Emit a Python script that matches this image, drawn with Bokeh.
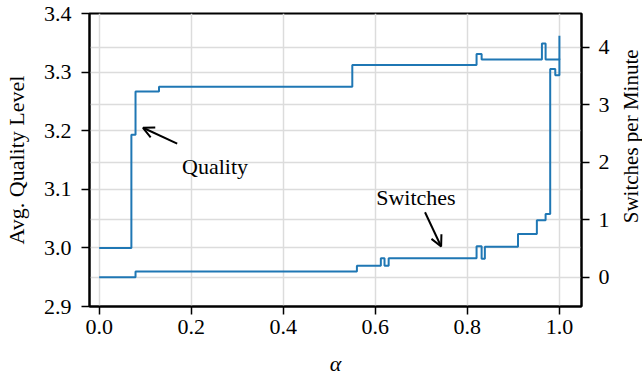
import math
from bokeh.plotting import figure
from bokeh.layouts import row
from bokeh.models import (Range1d, LinearAxis, FixedTicker, Grid, Arrow, OpenHead,
                          Label, NumeralTickFormatter)
from bokeh.embed import file_html
from bokeh.resources import INLINE

# ---- data ----
alpha_q = [0.0, 0.070, 0.079, 0.130, 0.550, 0.820, 0.831, 0.962, 0.970, 1.0]
quality = [3.000, 3.193, 3.267, 3.275, 3.312, 3.331, 3.3215, 3.349, 3.3215, 3.362]

alpha_s = [0.0, 0.079, 0.560, 0.612, 0.620, 0.629, 0.820, 0.831, 0.838,
           0.910, 0.951, 0.970, 0.980, 0.991, 1.0]
switches = [0.0, 0.10, 0.20, 0.33, 0.20, 0.33, 0.54, 0.32, 0.53,
            0.75, 0.99, 1.10, 3.62, 3.51, 3.80]

x_ticks = [0.0, 0.2, 0.4, 0.6, 0.8, 1.0]
q_ticks = [2.9, 3.0, 3.1, 3.2, 3.3, 3.4]
s_ticks = [0, 1, 2, 3, 4]

FONT = "Liberation Serif"
BLUE = "#1f77b4"
GRID = "#dcdcdc"

p = figure(width=616, height=378, output_backend="svg", toolbar_location=None,
           x_range=Range1d(-0.021, 1.048), y_range=Range1d(2.9, 3.4),
           min_border_left=87, min_border_right=35, min_border_top=13,
           min_border_bottom=72)
p.extra_y_ranges = {"right": Range1d(-0.51, 4.586)}

p.outline_line_color = "black"
p.outline_line_width = 2
p.background_fill_color = "white"
p.border_fill_color = "white"

right_axis = LinearAxis(y_range_name="right", ticker=FixedTicker(ticks=s_ticks))
p.add_layout(right_axis, "right")

p.xaxis.ticker = FixedTicker(ticks=x_ticks)
p.xaxis.formatter = NumeralTickFormatter(format="0.0")
p.xaxis.axis_label = "α"
p.yaxis[0].ticker = FixedTicker(ticks=q_ticks)
p.yaxis[0].formatter = NumeralTickFormatter(format="0.0")
p.yaxis[0].axis_label = "Avg. Quality Level"

for ax in p.axis:
    ax.axis_line_color = "black"
    ax.axis_line_width = 2
    ax.major_tick_line_color = "black"
    ax.major_tick_line_width = 1.5
    ax.major_tick_out = 8
    ax.major_tick_in = 0
    ax.minor_tick_line_color = None
    ax.major_label_text_font = FONT
    ax.major_label_text_font_size = "22px"
    ax.major_label_text_color = "black"
    ax.axis_label_text_font = FONT
    ax.axis_label_text_font_size = "22px"
    ax.axis_label_text_font_style = "normal"
    ax.axis_label_text_color = "black"
p.xaxis.axis_label_text_font_style = "italic"
p.xaxis.axis_label_standoff = 14
p.yaxis[0].major_label_standoff = 10
p.yaxis[0].axis_label_standoff = 12
right_axis.major_label_standoff = 9

p.xgrid.ticker = FixedTicker(ticks=x_ticks)
p.ygrid.ticker = FixedTicker(ticks=q_ticks)
for g in (p.xgrid, p.ygrid):
    g.grid_line_color = GRID
    g.grid_line_width = 1.5
p.add_layout(Grid(dimension=1, ticker=FixedTicker(ticks=s_ticks), y_range_name="right",
                  grid_line_color=GRID, grid_line_width=1.5))

p.step(alpha_q, quality, mode="after", line_color=BLUE, line_width=2)
p.step(alpha_s, switches, mode="after", line_color=BLUE, line_width=2,
       y_range_name="right")

p.add_layout(Arrow(end=OpenHead(size=11, line_width=2, line_color="black"),
                   x_start=0.1695, y_start=3.178, x_end=0.0952, y_end=3.205,
                   line_width=2, line_color="black"))
p.add_layout(Label(x=0.180, y=3.139, text="Quality", text_font=FONT,
                   text_font_size="22px", text_baseline="alphabetic", text_color="black"))
p.add_layout(Arrow(end=OpenHead(size=11, line_width=2, line_color="black"),
                   x_start=0.708, y_start=1.130, x_end=0.743, y_end=0.534,
                   line_width=2, line_color="black", y_range_name="right"))
p.add_layout(Label(x=0.602, y=1.391, text="Switches", text_font=FONT,
                   text_font_size="22px", text_baseline="alphabetic", text_color="black",
                   y_range_name="right"))

# narrow strip holding the right-axis title, reading bottom-to-top
t = figure(width=26, height=378, output_backend="svg", toolbar_location=None,
           x_range=Range1d(0, 26), y_range=Range1d(0, 378),
           x_axis_type=None, y_axis_type=None, min_border=0)
t.outline_line_color = None
t.grid.visible = False
t.background_fill_color = "white"
t.border_fill_color = "white"
t.add_layout(Label(x=14, y=219.5, text="Switches per Minute", text_font=FONT,
                   text_font_size="21px", text_color="black", angle=math.pi / 2,
                   text_align="center", text_baseline="middle"))

layout = row(p, t, spacing=0)
open("out.html", "w").write(file_html(layout, INLINE))
